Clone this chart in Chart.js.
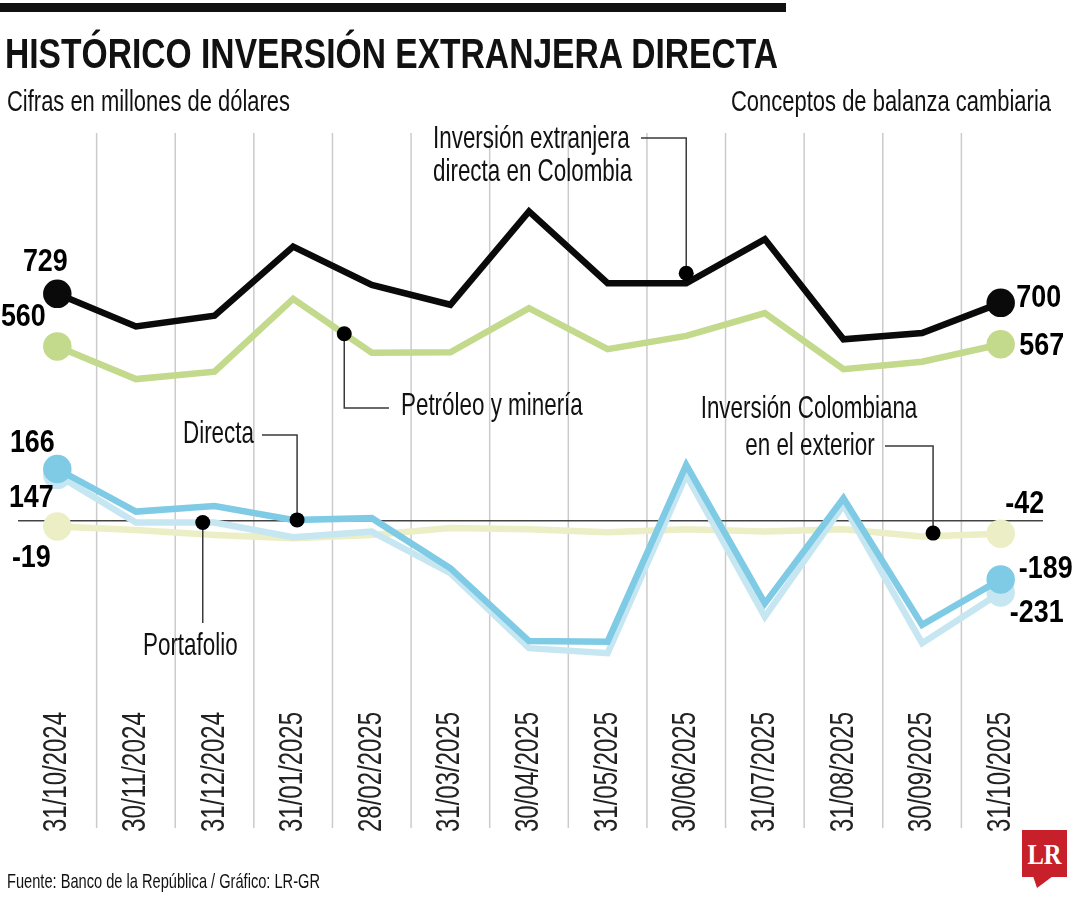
<!DOCTYPE html>
<html>
<head>
<meta charset="utf-8">
<script src="https://cdn.jsdelivr.net/npm/chart.js@4.4.1/dist/chart.umd.min.js"></script>
<style>
html,body{margin:0;padding:0;background:#fff;}
#wrap{position:relative;width:1080px;height:900px;overflow:hidden;background:#fff;}
#c{position:absolute;left:0;top:0;}
.t{position:absolute;white-space:nowrap;transform-origin:0 0;line-height:1;color:#111;font-family:"Liberation Sans",Arial,sans-serif;}
#bar{position:absolute;left:0;top:3px;width:786px;height:9px;background:#111;}
#logo{position:absolute;left:1022px;top:830px;width:45px;height:47px;background:#c8202a;}
#tail{position:absolute;left:1033px;top:876px;width:20px;height:12px;background:#c8202a;clip-path:polygon(0 0,100% 0,20% 100%);}
#lr{position:absolute;left:1022px;top:830px;width:45px;height:47px;color:#fff;font:bold 30px "Liberation Serif","DejaVu Serif",serif;line-height:47px;text-align:center;transform:scaleX(0.82);transform-origin:center;}
</style>
</head>
<body>
<div id="wrap">
  <div id="bar"></div>
  <canvas id="c" width="1080" height="900"></canvas>
  <div class="t" style="left:5px;font-weight:bold" data-size="43" data-base="68" data-w="773">HISTÓRICO INVERSIÓN EXTRANJERA DIRECTA</div>
  <div class="t" style="left:7px" data-size="30" data-base="111" data-w="283">Cifras en millones de dólares</div>
  <div class="t" style="left:731px" data-size="30" data-base="111" data-w="320">Conceptos de balanza cambiaria</div>
  <div class="t" style="left:7px" data-size="21" data-base="888" data-w="313">Fuente: Banco de la República / Gráfico: LR-GR</div>
  <div id="logo"></div>
  <div id="tail"></div>
  <div id="lr">LR</div>
</div>
<script>
// ---- Data (millones de dólares) ----
const categories = ['31/10/2024','30/11/2024','31/12/2024','31/01/2025','28/02/2025','31/03/2025','30/04/2025','31/05/2025','30/06/2025','31/07/2025','31/08/2025','30/09/2025','31/10/2025'];
const iedColombia = [729, 624, 659, 881, 758, 694, 994, 763, 763, 905, 583, 603, 700];
const petroleoMineria = [560, 455, 479, 713, 540, 541, 683, 551, 594, 667, 487, 511, 567];
const directa = [166, 29, 47, 2, 8, -153, -387, -389, 179, -266, 72, -335, -189];
const portafolio = [147, -6, -6, -53, -35, -169, -410, -426, 147, -309, 50, -394, -231];
const inversionExterior = [-19, -30, -46, -57, -46, -24, -28, -37, -28, -35, -28, -51, -42];

// ---- HTML text fitting ----
document.querySelectorAll('.t').forEach(el => {
  const size = +el.dataset.size, base = +el.dataset.base, w = +el.dataset.w;
  el.style.fontSize = size + 'px';
  el.style.top = (base - 0.8465 * size) + 'px';
  const nat = el.getBoundingClientRect().width;
  el.style.transform = 'scaleX(' + (w / nat) + ')';
});

const COLORS = ['#0a0a0a', '#c3d98b', '#7fcbe5', '#c6e6f2', '#eceec5'];
const LAST = categories.length - 1;

// layout of annotation texts / leaders (pixels), anchors via scales
const annotations = [
  {ds: 0, fi: 8, dy: -10, hx: 641, hy: 138,
   lines: [['Inversión extranjera', 433, 148, 'left'], ['directa en Colombia', 433, 181, 'left']]},
  {ds: 1, fi: 3.65, dy: 0, hx: 389, hy: 408,
   lines: [['Petróleo y minería', 401, 415, 'left']]},
  {ds: 4, fi: 11.14, dy: -3, hx: 885, hy: 446,
   lines: [['Inversión Colombiana', 809, 418, 'center'], ['en el exterior', 810, 455, 'center']]},
  {ds: 2, fi: 3.05, dy: 0, hx: 262, hy: 435,
   lines: [['Directa', 183, 443, 'left']]},
  {ds: 3, fi: 1.85, dy: 0, hx: null, hy: 623,
   lines: [['Portafolio', 143, 655, 'left']]}
];
const valueLabels = [
  {ds: 0, idx: 0, dx: -12, dy: -23},
  {ds: 1, idx: 0, dx: -34, dy: -20},
  {ds: 2, idx: 0, dx: -25, dy: -17},
  {ds: 3, idx: 0, dx: -26, dy: 32},
  {ds: 4, idx: 0, dx: -26, dy: 40},
  {ds: 0, idx: LAST, dx: 38, dy: 4},
  {ds: 1, idx: LAST, dx: 41, dy: 11},
  {ds: 4, idx: LAST, dx: 24, dy: -21},
  {ds: 2, idx: LAST, dx: 45, dy: -1},
  {ds: 3, idx: LAST, dx: 36, dy: 30}
];

function scaledText(ctx, text, x, y, sx, align) {
  ctx.save();
  ctx.translate(x, y);
  ctx.scale(sx, 1);
  ctx.textAlign = align;
  ctx.fillText(text, 0, 0);
  ctx.restore();
}

const decor = {
  id: 'decor',
  beforeDatasetsDraw(chart) {
    const {ctx, chartArea: a, scales: {x, y}} = chart;
    ctx.save();
    ctx.strokeStyle = '#cbcbcb';
    ctx.lineWidth = 1.5;
    for (let i = 0; i < LAST; i++) {
      const gx = (x.getPixelForValue(i) + x.getPixelForValue(i + 1)) / 2;
      ctx.beginPath(); ctx.moveTo(gx, a.top); ctx.lineTo(gx, a.bottom); ctx.stroke();
    }
    const y0 = y.getPixelForValue(0);
    ctx.strokeStyle = '#444';
    ctx.lineWidth = 1.5;
    ctx.beginPath(); ctx.moveTo(a.left, y0); ctx.lineTo(a.right + 3, y0); ctx.stroke();
    ctx.restore();
  },
  afterDatasetsDraw(chart) {
    const {ctx, scales: {x, y}} = chart;
    const ptY = (ds, fi) => {
      const d = chart.data.datasets[ds].data;
      const i0 = Math.floor(fi), i1 = Math.min(i0 + 1, LAST), t = fi - i0;
      return y.getPixelForValue(d[i0]) * (1 - t) + y.getPixelForValue(d[i1]) * t;
    };
    ctx.save();
    // annotations
    annotations.forEach(an => {
      const ax = x.getPixelForValue(an.fi);
      const ay = ptY(an.ds, an.fi) + an.dy;
      ctx.strokeStyle = '#3a3a3a';
      ctx.lineWidth = 1.5;
      ctx.beginPath();
      ctx.moveTo(an.hx == null ? ax : an.hx, an.hy);
      ctx.lineTo(ax, an.hy);
      ctx.lineTo(ax, ay);
      ctx.stroke();
      ctx.fillStyle = '#000';
      ctx.beginPath(); ctx.arc(ax, ay, 7.5, 0, Math.PI * 2); ctx.fill();
      ctx.fillStyle = '#111';
      ctx.font = '32px "Liberation Sans", Arial, sans-serif';
      ctx.textBaseline = 'alphabetic';
      an.lines.forEach(l => scaledText(ctx, l[0], l[1], l[2], 0.70, l[3]));
    });
    // value labels
    ctx.fillStyle = '#000';
    ctx.font = 'bold 32px "Liberation Sans", Arial, sans-serif';
    valueLabels.forEach(v => {
      const val = chart.data.datasets[v.ds].data[v.idx];
      const px = x.getPixelForValue(v.idx), py = y.getPixelForValue(val);
      scaledText(ctx, String(val), px + v.dx, py + v.dy, 0.84, 'center');
    });
    // rotated category labels
    ctx.fillStyle = '#222';
    ctx.font = '33px "Liberation Sans", Arial, sans-serif';
    ctx.textBaseline = 'middle';
    chart.data.labels.forEach((lab, i) => {
      const px = x.getPixelForValue(i);
      ctx.save();
      ctx.translate(px, 832);
      ctx.rotate(-Math.PI / 2);
      const w = ctx.measureText(lab).width;
      ctx.scale(120 / w, 1);
      ctx.textAlign = 'left';
      ctx.fillText(lab, 0, 0);
      ctx.restore();
    });
    ctx.restore();
  }
};

const series = [
  ['Inversión extranjera directa en Colombia', iedColombia],
  ['Petróleo y minería', petroleoMineria],
  ['Directa', directa],
  ['Portafolio', portafolio],
  ['Inversión Colombiana en el exterior', inversionExterior]
];

new Chart(document.getElementById('c').getContext('2d'), {
  type: 'line',
  data: {
    labels: categories,
    datasets: series.map((s, i) => ({
      label: s[0], data: s[1],
      borderColor: COLORS[i], backgroundColor: COLORS[i], pointBackgroundColor: COLORS[i],
      borderWidth: 6.5, fill: false
    }))
  },
  options: {
    responsive: false, animation: false, devicePixelRatio: 1,
    layout: {padding: {left: 18, right: 40, top: 133, bottom: 72}},
    plugins: {legend: {display: false}, tooltip: {enabled: false}},
    events: [],
    elements: {
      line: {tension: 0, borderCapStyle: 'butt', borderJoinStyle: 'miter'},
      point: {radius: c => (c.dataIndex === 0 || c.dataIndex === LAST) ? 11 : 0, borderWidth: 0, hoverRadius: 0}
    },
    scales: {
      x: {type: 'category', offset: true, display: false},
      y: {display: false, min: -988, max: 1246}
    }
  },
  plugins: [decor]
});
</script>
</body>
</html>
